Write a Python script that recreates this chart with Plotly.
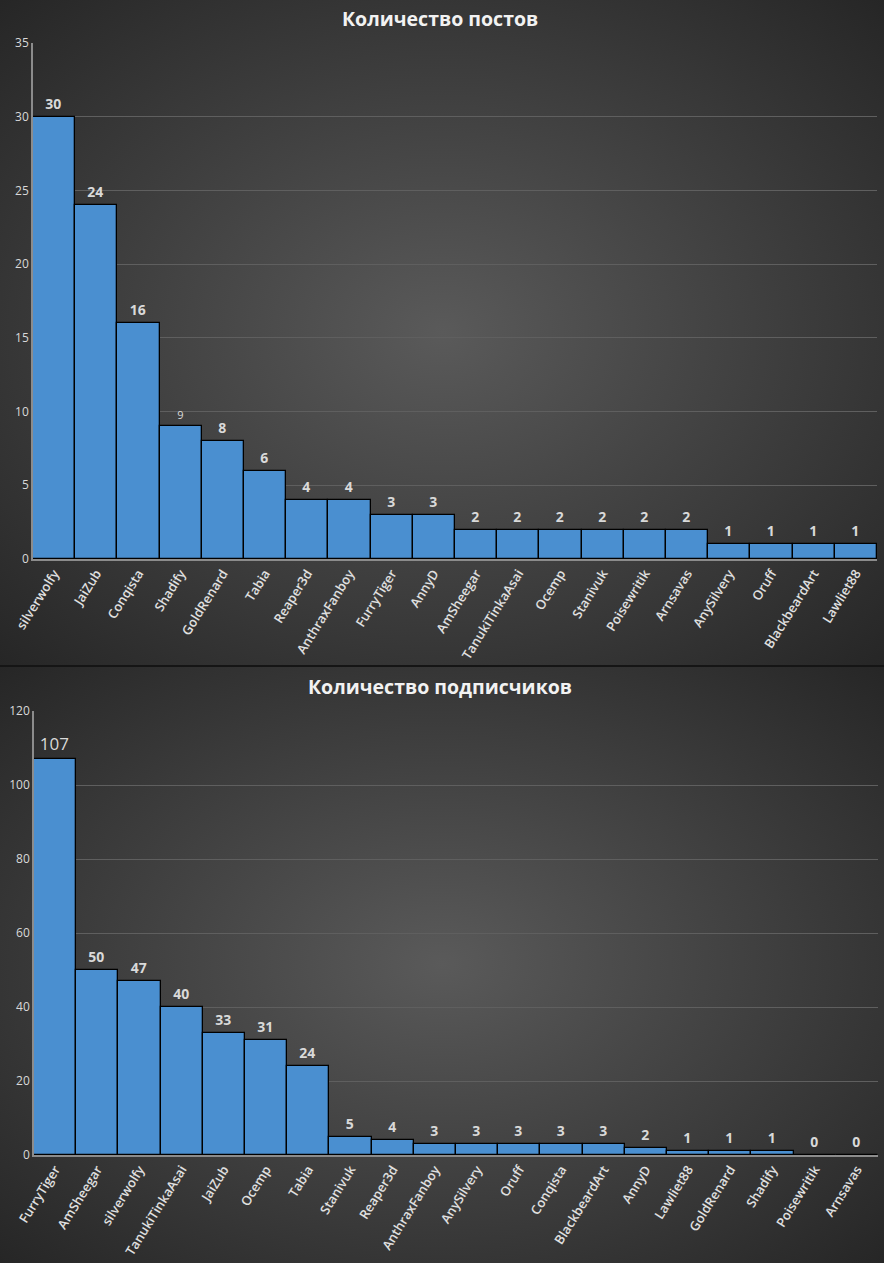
import base64
import plotly.graph_objects as go

# ---- data ----
posts_names = ["silverwolfy", "JaiZub", "Conqista", "Shadify", "GoldRenard", "Tabia", "Reaper3d",
               "AnthraxFanboy", "FurryTiger", "AnnyD", "AmSheegar", "TanukiTinkaAsai", "Ocemp",
               "Stanivuk", "Poisewritik", "Arnsavas", "AnySilvery", "Oruff", "BlackbeardArt", "Lawliet88"]
posts_values = [30, 24, 16, 9, 8, 6, 4, 4, 3, 3, 2, 2, 2, 2, 2, 2, 1, 1, 1, 1]

subs_names = ["FurryTiger", "AmSheegar", "silverwolfy", "TanukiTinkaAsai", "JaiZub", "Ocemp", "Tabia",
              "Stanivuk", "Reaper3d", "AnthraxFanboy", "AnySilvery", "Oruff", "Conqista", "BlackbeardArt",
              "AnnyD", "Lawliet88", "GoldRenard", "Shadify", "Poisewritik", "Arnsavas"]
subs_values = [107, 50, 47, 40, 33, 31, 24, 5, 4, 3, 3, 3, 3, 3, 2, 1, 1, 1, 0, 0]

title_top = "Количество постов"
title_bottom = "Количество подписчиков"

W, H = 884, 1263
SPLIT = 665
FONT = "Open Sans"
TXT = "#d9d9d9"
BAR = "#4a8fd0"


def bg_uri(w, h):
    svg = (f'<svg xmlns="http://www.w3.org/2000/svg" width="{w}" height="{h}" viewBox="0 0 {w} {h}" '
           f'preserveAspectRatio="none">'
           '<defs><radialGradient id="g" cx="50%" cy="50%" r="72%">'
           '<stop offset="0" stop-color="#5a5a5a"/><stop offset="1" stop-color="#252525"/>'
           '</radialGradient></defs>'
           f'<rect width="{w}" height="{h}" fill="url(#g)"/></svg>')
    return "data:image/svg+xml;base64," + base64.b64encode(svg.encode()).decode()


def labels(vals, plain=None):
    out = []
    for i, v in enumerate(vals):
        out.append(str(v) if plain and i in plain else f"<b>{v}</b>")
    return out


def py(y):
    return 1 - y / H


fig = go.Figure()

top_sizes = [14] * len(posts_values)
top_sizes[3] = 11
fig.add_trace(go.Bar(
    x=posts_names, y=posts_values, xaxis="x", yaxis="y",
    marker=dict(color=BAR, line=dict(color="#000000", width=1.3)),
    text=labels(posts_values, plain={3}), textposition="outside", cliponaxis=False,
    textfont=dict(family=FONT, size=top_sizes, color=TXT), showlegend=False, hoverinfo="x+y"))

bot_sizes = [14] * len(subs_values)
bot_sizes[0] = 17
fig.add_trace(go.Bar(
    x=subs_names, y=subs_values, xaxis="x2", yaxis="y2",
    marker=dict(color=BAR, line=dict(color="#000000", width=1.3)),
    text=labels(subs_values, plain={0}), textposition="outside", cliponaxis=False,
    textfont=dict(family=FONT, size=bot_sizes, color=TXT), showlegend=False, hoverinfo="x+y"))

xcommon = dict(tickangle=-58, tickfont=dict(family=FONT, size=13, color="#e0e0e0", weight=600),
               showgrid=False, showline=True, linecolor="#8c8c8c", linewidth=1.5, ticks="",
               fixedrange=True, automargin=False)
ycommon = dict(tickfont=dict(family=FONT, size=12, color=TXT), showgrid=True, gridcolor="#5f5f5f",
               gridwidth=1, showline=True, linecolor="#8c8c8c", linewidth=1.5, zeroline=False,
               ticks="", fixedrange=True, automargin=False)

fig.update_layout(
    width=W, height=H, margin=dict(l=0, r=0, t=0, b=0),
    paper_bgcolor="#333333", plot_bgcolor="rgba(0,0,0,0)",
    bargap=0,
    xaxis=dict(domain=[33 / W, 877 / W], anchor="y", **xcommon),
    yaxis=dict(domain=[py(559), py(43)], anchor="x", range=[0, 35], dtick=5, **ycommon),
    xaxis2=dict(domain=[34 / W, 878 / W], anchor="y2", **xcommon),
    yaxis2=dict(domain=[py(1155), py(711)], anchor="x2", range=[0, 120], dtick=20, **ycommon),
    images=[
        dict(source=bg_uri(W, SPLIT), xref="paper", yref="paper", x=0, y=1, sizex=1,
             sizey=SPLIT / H, sizing="stretch", layer="below", xanchor="left", yanchor="top"),
        dict(source=bg_uri(W, H - SPLIT), xref="paper", yref="paper", x=0, y=py(SPLIT), sizex=1,
             sizey=(H - SPLIT) / H, sizing="stretch", layer="below", xanchor="left", yanchor="top"),
    ],
    shapes=[dict(type="line", xref="paper", yref="paper", x0=0, x1=1, y0=py(SPLIT + 1), y1=py(SPLIT + 1),
                 line=dict(color="#151515", width=2))],
    annotations=[
        dict(text=f"<b>{title_top}</b>", xref="paper", yref="paper", x=440 / W, y=py(18),
             showarrow=False, font=dict(family=FONT, size=19.5, color="#f2f2f2"), yanchor="middle"),
        dict(text=f"<b>{title_bottom}</b>", xref="paper", yref="paper", x=440 / W, y=py(686),
             showarrow=False, font=dict(family=FONT, size=19.5, color="#f2f2f2"), yanchor="middle"),
    ],
)

fig.write_html("out.html")
